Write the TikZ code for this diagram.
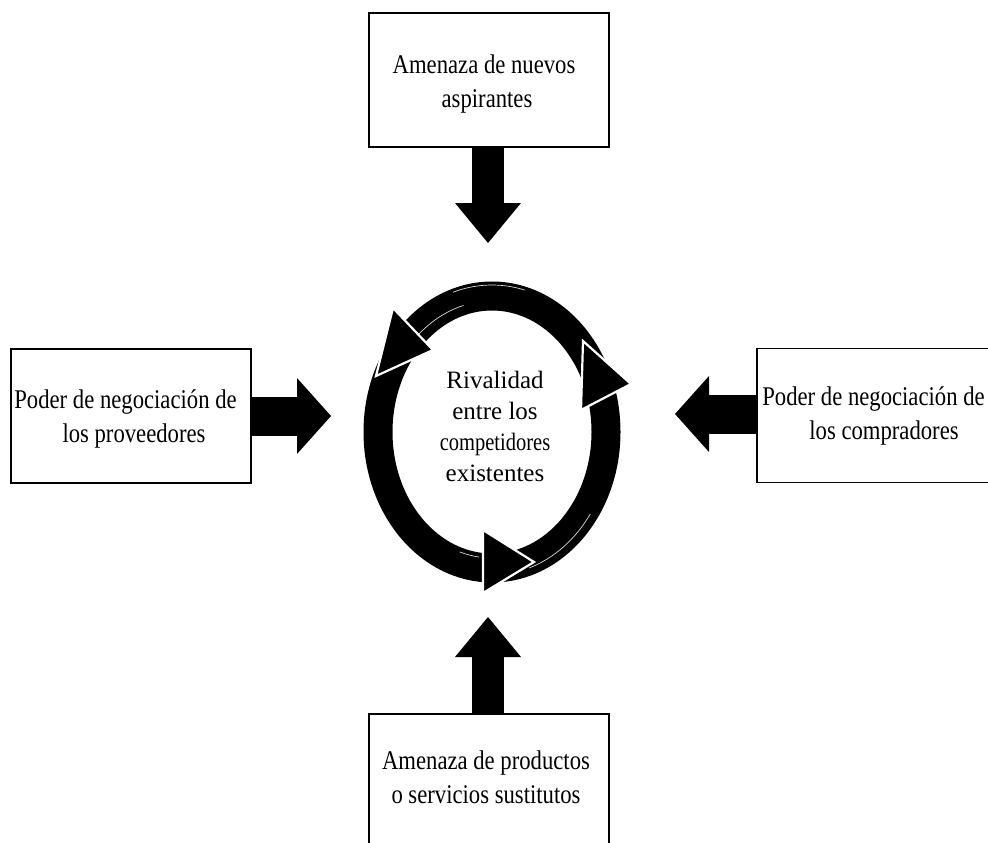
\documentclass[tikz,border=0pt]{standalone}
\usepackage{fontspec}
\setmainfont[FakeStretch=0.84]{Liberation Serif}
\newfontfamily\hubfont{Liberation Serif}
\usetikzlibrary{arrows.meta,calc}

\begin{document}
\begin{tikzpicture}[x=1pt,y=-1pt,
  force/.style={draw=black, line width=1.2pt, minimum width=240pt,
    minimum height=134pt, inner sep=0pt},
  forcetext/.style={align=center, inner sep=0pt,
    font=\fontsize{27}{34}\selectfont},
  vpush/.style={line width=32pt,
    -{Triangle[length=40pt,width=66pt,line width=0pt]}},
  hpush/.style={line width=39pt,
    -{Triangle[length=34pt,width=76pt,line width=0pt]}},
  cyclehead/.style={fill=black, draw=white, line width=2.2pt, line join=miter},
  brush/.style={draw=white, line width=0.7pt, opacity=0.85}]

  % canvas
  \useasboundingbox (0,0) rectangle (988,843);
  \clip (0,0) rectangle (988,843);

  % the four outer forces
  \node[force] (entrants)    at (489,80)    {};
  \node[force] (suppliers)   at (131,416)   {};
  \node[force] (buyers)      at (877,415.5) {};
  \node[force] (substitutes) at (489,781)   {};

  \node[forcetext] (entrantsText) at (487,83.7)
    {Amenaza de nuevos\hspace*{6pt}\\aspirantes};
  \node[forcetext] (suppliersText) at (134,418.8)
    {Poder de negociación de\hspace*{17pt}\\los proveedores};
  \node[forcetext] (buyersText) at (884,416.3)
    {Poder de negociación de\hspace*{21pt}\\los compradores};
  \node[forcetext] (substitutesText) at (486,777.3)
    {Amenaza de productos\\o servicios sustitutos};

  % arrow tips pointing at the central cycle
  \coordinate (tipN) at (488,243);
  \coordinate (tipS) at (488,617);
  \coordinate (tipW) at (331,416);
  \coordinate (tipE) at (675,414);

  \draw[vpush] (entrants.south -| tipN) -- (tipN);
  \draw[vpush] (substitutes.north -| tipS) -- (tipS);
  \draw[hpush] (suppliers.east |- tipW) -- (tipW);
  \draw[hpush] (buyers.west |- tipE) -- (tipE);

  % central rivalry cycle
  \coordinate (hub) at (492,432);
  \draw[line width=29pt] (hub) ellipse[x radius=114, y radius=136];

  % brush streaks on the ring
  \draw[brush] (hub) ++(225:110 and 131)
    arc[start angle=225, end angle=255, x radius=110, y radius=131];
  \draw[brush] (hub) ++(252:126 and 147)
    arc[start angle=252, end angle=285, x radius=126, y radius=147];
  \draw[brush] (hub) ++(35:120 and 143)
    arc[start angle=35, end angle=72, x radius=120, y radius=143];
  \draw[brush] (hub) ++(97:105 and 126)
    arc[start angle=97, end angle=108, x radius=105, y radius=126];

  % arrowheads on the cycle
  \path[cyclehead] (393,308) -- (433,350) -- (376,376) -- cycle;
  \path[cyclehead] (583,341) -- (631,384) -- (581,410) -- cycle;
  \path[cyclehead] (483,530) -- (534,562) -- (483,593) -- cycle;

  \node[align=center, inner sep=0pt, font=\hubfont\fontsize{25}{31}\selectfont]
    (rivalry) at (495,426.5)
    {Rivalidad\\entre los\\\scalebox{0.82}[1]{competidores}\\existentes};
\end{tikzpicture}
\end{document}
